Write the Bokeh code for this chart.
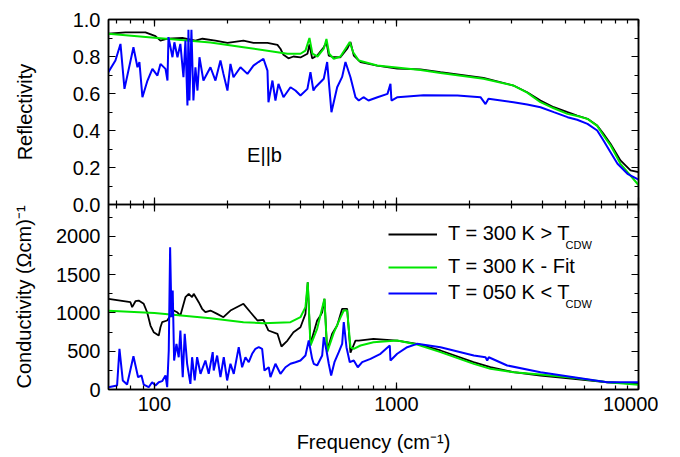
from bokeh.plotting import figure
from bokeh.models import (Range1d, LogAxis, LinearAxis, Legend, LegendItem, Label,
                          LogTicker, SingleIntervalTicker, PrintfTickFormatter)
from bokeh.layouts import column
from bokeh.embed import file_html
from bokeh.resources import INLINE
from bokeh.core.properties import value

FONT = "Liberation Sans"

# ---------------- data ----------------
# Reflectivity, T = 300 K
f_R300 = [64.5, 75.9, 91.8, 101, 105.9, 113.2, 130.5, 147.7, 157.9, 178.7, 200.3, 233.2, 256.5,
          293.1, 322.3, 331.6, 341.3, 357.9, 375.3, 401.2, 428.7, 437.0, 448.4, 470.2, 500.8,
          513.7, 525.1, 550.6, 586.9, 625.7, 645.6, 666.3, 710.1, 832.3, 1007, 1257, 1520,
          2289, 3045, 3468, 3936, 4467, 5090, 5580, 6156, 6751, 7168, 7663, 8425, 9267, 10000]
R300 = [0.923, 0.930, 0.930, 0.910, 0.886, 0.896, 0.900, 0.886, 0.896, 0.886, 0.874, 0.886, 0.874,
        0.874, 0.863, 0.842, 0.809, 0.790, 0.800, 0.795, 0.815, 0.865, 0.790, 0.805, 0.850,
        0.878, 0.805, 0.796, 0.796, 0.842, 0.878, 0.805, 0.770, 0.751, 0.734, 0.730, 0.715,
        0.685, 0.643, 0.607, 0.562, 0.526, 0.499, 0.481, 0.463, 0.427, 0.382, 0.328, 0.238,
        0.184, 0.175]

# Reflectivity, T = 300 K fit
f_Rfit = [64.5, 100, 170.4, 233.2, 322.3, 354.5, 401.2, 420.7, 437.0, 449.6, 471.6, 500.8, 513.7,
          527.2, 550.6, 586.9, 615.6, 641.3, 662.4, 698.7, 832.3, 1257, 1520, 2289, 3045, 3468,
          3936, 4467, 5090, 5580, 6156, 6751, 7168, 7663, 8425, 10000]
Rfit = [0.923, 0.902, 0.876, 0.850, 0.823, 0.815, 0.815, 0.832, 0.900, 0.815, 0.800, 0.842, 0.895,
        0.815, 0.788, 0.800, 0.842, 0.878, 0.823, 0.778, 0.751, 0.727, 0.711, 0.680, 0.643, 0.605,
        0.553, 0.520, 0.490, 0.478, 0.463, 0.425, 0.373, 0.320, 0.220, 0.105]

# Reflectivity, T = 50 K
f_R050 = [64.5, 69.0, 72.4, 75.2, 81.9, 85.1, 86.7, 89.2, 93.6, 98.1, 102.9, 105.9, 111.1, 113.2,
          114.3, 118.7, 120.9, 124.5, 128.0, 131.8, 134.3, 136.9, 138.2, 139.5, 142.2, 144.9,
          147.7, 150.6, 153.5, 159.4, 170.4, 178.7, 187.4, 192.8, 200.3, 206.1, 212.1, 226.7,
          242.3, 256.5, 269.0, 282.1, 293.1, 295.9, 307.3, 316.2, 325.4, 341.3, 364.8, 382.5,
          401.2, 428.7, 441.2, 453.9, 462.7, 500.8, 517.2, 538.7, 568.8, 596.5, 615.6, 645.6,
          677.2, 698.7, 730.6, 766.3, 834.9, 918.1, 944.5, 953.5, 1010, 1293, 1787, 2224, 2333,
          2400, 3045, 3468, 3936, 4467, 5090, 5580, 6156, 6751, 7168, 7663, 8190, 9005, 10000]
R050 = [0.715, 0.778, 0.868, 0.625, 0.850, 0.742, 0.770, 0.580, 0.670, 0.733, 0.697, 0.760, 0.733,
        0.670, 0.905, 0.796, 0.877, 0.796, 0.868, 0.688, 0.886, 0.535, 0.944, 0.562, 0.944, 0.562,
        0.742, 0.616, 0.796, 0.670, 0.742, 0.670, 0.778, 0.706, 0.616, 0.760, 0.688, 0.742,
        0.706, 0.751, 0.770, 0.788, 0.724, 0.553, 0.670, 0.562, 0.652, 0.580, 0.634, 0.616,
        0.589, 0.625, 0.715, 0.616, 0.634, 0.680, 0.770, 0.499, 0.634, 0.690, 0.770, 0.688,
        0.580, 0.562, 0.580, 0.562, 0.580, 0.598, 0.652, 0.562, 0.580, 0.590, 0.589, 0.580, 0.543,
        0.571, 0.553, 0.540, 0.526, 0.499, 0.472, 0.458, 0.436, 0.400, 0.346, 0.283, 0.220,
        0.166, 0.135]

# Conductivity, T = 300 K
f_S300 = [64.6, 79.6, 80.9, 83.5, 86.1, 90.3, 93.3, 96.3, 99.3, 104.2, 105.9, 107.6, 112.9, 120.2,
          124.1, 128.0, 134.3, 138.6, 143.1, 145.3, 152.4, 157.4, 162.4, 170.4, 181.6, 192.8,
          206.1, 233.2, 249.3, 266.4, 282.1, 295.9, 322.3, 334.8, 354.5, 375.3, 401.2, 420.7,
          430.0, 441.2, 470.2, 485.3, 493.2, 504.1, 517.2, 542.3, 568.8, 596.5, 625.7, 645.6,
          677.2, 698.7, 803.5, 1007, 1217, 1520, 2081, 2445, 3045, 3936, 5387, 7446, 10000]
S300 = [1185, 1141, 1076, 1154, 1163, 1120, 1010, 836, 749, 706, 814, 880, 902, 1032,
        1010, 967, 1207, 1251, 1207, 1251, 1141, 1055, 1010, 1032, 989, 945,
        1032, 1120, 1010, 902, 911, 771, 728, 562, 640, 749, 814, 989,
        1402, 597, 902, 967, 1010, 1185, 510, 728, 836, 1055, 1055, 480,
        640, 640, 662, 640, 597, 510, 357, 291, 226, 183, 140, 95, 73]

# Conductivity, T = 300 K fit
f_Sfit = [64.6, 100, 170.4, 233.2, 282.1, 364.8, 401.2, 420.7, 430.0, 441.2, 470.2, 504.1, 517.2,
          550.6, 586.9, 605.7, 625.7, 645.6, 666.3, 710.1, 803.7, 1007, 1217, 1520, 2087, 2445,
          3045, 3936, 5387, 7446, 10000]
Sfit = [1030, 1000, 932, 880, 867, 880, 945, 1076, 1402, 575, 793, 1185, 488,
        740, 940, 1032, 1032, 553, 532, 575, 618, 640, 588, 488, 335, 270,
        226, 196, 153, 95, 62]

# Conductivity, T = 50 K
f_S050 = [64.5, 70.1, 71.7, 74.0, 77.1, 81.9, 85.6, 88.4, 90.3, 94.7, 97.8, 101, 104.2, 107.6,
          111.1, 112.9, 114.6, 116.1, 117.6, 119.0, 120.6, 123.3, 126.0, 128.0, 130.9, 133.4,
          136.5, 140.8, 143.1, 146.7, 150.1, 155.0, 162.4, 167.6, 174.1, 175.8, 181.6, 187.4,
          193.4, 199.7, 206.1, 212.7, 223.0, 230.3, 237.7, 245.3, 253.3, 261.4, 269.8, 278.6,
          284.8, 296.7, 301.5, 316.2, 331.6, 347.8, 364.8, 382.5, 401.2, 420.7, 434.1, 448.4,
          455.2, 470.2, 493.2, 500.8, 513.7, 525.1, 537.2, 554.3, 577.5, 596.5, 605.7, 621.5,
          641.3, 666.3, 692.1, 721.7, 781.1, 859.0, 920.7, 938.4, 944.5, 1007, 1107, 1217,
          1520, 2087, 2333, 2371, 2406, 2867, 3936, 5402, 7425, 10000]
S050 = [30, 52, 532, 118, 65, 435, 161, 183, 65, 30, 95, 52, 95, 109,
        183, 30, 510, 1860, 945, 1294, 379, 597, 422, 771, 161, 728,
        336, 74, 422, 118, 422, 205, 379, 205, 488, 248, 444, 161,
        422, 118, 336, 205, 553, 291, 422, 357, 467, 532, 553, 532,
        248, 291, 161, 336, 205, 291, 336, 357, 379, 444, 640, 401,
        336, 314, 444, 684, 510, 336, 183, 357, 488, 597, 880, 553,
        357, 379, 291, 357, 401, 467, 553, 575, 379, 467, 553, 597,
        553, 444, 422, 379, 422, 314, 226, 161, 95, 95]

X_MIN, X_MAX = 64.6, 10000
R_MIN, R_MAX = 0.0, 1.0
S_MIN, S_MAX = 0, 2418

legend_labels = ["T = 300 K > T", "T = 300 K - Fit", "T = 050 K < T"]
sub_label = "CDW"

BLACK, GREEN, BLUE = "#000000", "#00e600", "#0000ff"

# ---------------- styling helpers ----------------
def style_axis(ax, labels=True):
    ax.axis_line_color = "black"
    ax.axis_line_width = 1.5
    ax.major_tick_line_color = "black"
    ax.major_tick_line_width = 1.2
    ax.minor_tick_line_color = "black"
    ax.minor_tick_line_width = 1.2
    ax.major_tick_in = 7
    ax.major_tick_out = 0
    ax.minor_tick_in = 4
    ax.minor_tick_out = 0
    ax.major_label_text_font = FONT
    ax.major_label_text_color = "black"
    if labels:
        ax.major_label_text_font_size = "20px"
        ax.major_label_standoff = 8
    else:
        ax.major_label_text_font_size = "1px"
        ax.major_label_text_alpha = 0
        ax.major_label_standoff = 0
    ax.axis_label_text_font = FONT
    ax.axis_label_text_font_size = "20px"
    ax.axis_label_text_font_style = "normal"
    ax.axis_label_text_color = "black"


x_range = Range1d(X_MIN, X_MAX)


def make_fig(y_range, **kw):
    p = figure(x_axis_type="log", x_range=x_range, y_range=y_range,
               frame_width=530, frame_height=185, output_backend="svg",
               toolbar_location=None, min_border_left=108, min_border_right=20, **kw)
    p.xgrid.grid_line_color = None
    p.ygrid.grid_line_color = None
    p.outline_line_color = "black"
    p.outline_line_width = 1.5
    p.background_fill_color = "white"
    return p


# ---------------- top panel: reflectivity ----------------
top = make_fig(Range1d(R_MIN, R_MAX), min_border_top=19, min_border_bottom=10)
top.xaxis[0].ticker = LogTicker(num_minor_ticks=10)
style_axis(top.xaxis[0], labels=False)
top.yaxis[0].ticker = SingleIntervalTicker(interval=0.2, num_minor_ticks=2)
top.yaxis[0].formatter = PrintfTickFormatter(format="%.1f")
top.yaxis[0].axis_label = "Reflectivity"
style_axis(top.yaxis[0])
top.yaxis[0].axis_label_standoff = 34
ax = LogAxis(ticker=LogTicker(num_minor_ticks=10))
style_axis(ax, labels=False)
top.add_layout(ax, "above")
ax = LinearAxis(ticker=SingleIntervalTicker(interval=0.2, num_minor_ticks=2))
style_axis(ax, labels=False)
top.add_layout(ax, "right")

top.line(f_R300, R300, line_color=BLACK, line_width=1.8)
top.line(f_Rfit, Rfit, line_color=GREEN, line_width=2)
top.line(f_R050, R050, line_color=BLUE, line_width=2)

top.add_layout(Label(x=285, y=0.265, text="E||b", text_font=FONT, text_font_size="20px",
                     text_align="center", text_baseline="middle", text_color="black"))

# ---------------- bottom panel: conductivity ----------------
bot = make_fig(Range1d(S_MIN, S_MAX), min_border_top=0, margin=(-10, 0, 0, 0))
bot.border_fill_color = None
bot.xaxis[0].ticker = LogTicker(num_minor_ticks=10)
bot.xaxis[0].formatter = PrintfTickFormatter(format="%d")
bot.xaxis[0].axis_label = "Frequency (cm\u207b\u00b9)"
style_axis(bot.xaxis[0])
bot.xaxis[0].major_label_standoff = 7
bot.xaxis[0].axis_label_standoff = 17
bot.yaxis[0].ticker = SingleIntervalTicker(interval=500, num_minor_ticks=2)
bot.yaxis[0].axis_label = "Conductivity (\u03a9cm)\u207b\u00b9"
style_axis(bot.yaxis[0])
bot.yaxis[0].axis_label_standoff = 18
ax = LogAxis(ticker=LogTicker(num_minor_ticks=10))
style_axis(ax, labels=False)
bot.add_layout(ax, "above")
ax = LinearAxis(ticker=SingleIntervalTicker(interval=500, num_minor_ticks=2))
style_axis(ax, labels=False)
bot.add_layout(ax, "right")

r1 = bot.line(f_S300, S300, line_color=BLACK, line_width=1.8)
r2 = bot.line(f_Sfit, Sfit, line_color=GREEN, line_width=2)
r3 = bot.line(f_S050, S050, line_color=BLUE, line_width=2)

for r, lbl, ypos in [(r1, legend_labels[0], 144), (r2, legend_labels[1], 111), (r3, legend_labels[2], 85)]:
    leg = Legend(items=[LegendItem(label=value(lbl), renderers=[r])], location=(280, ypos),
                 border_line_color=None, background_fill_alpha=0, padding=0, margin=0,
                 spacing=0, label_text_font=FONT, label_text_font_size="20px",
                 label_text_color="black", glyph_width=49, glyph_height=22, label_height=22,
                 label_standoff=11)
    bot.add_layout(leg)

for ysub in (1888, 1112):
    bot.add_layout(Label(x=4994, y=ysub, text=sub_label, text_font=FONT, text_font_size="11px",
                         text_align="left", text_baseline="alphabetic", text_color="black"))

layout = column(top, bot, spacing=0)
open("out.html", "w").write(file_html(layout, INLINE))
